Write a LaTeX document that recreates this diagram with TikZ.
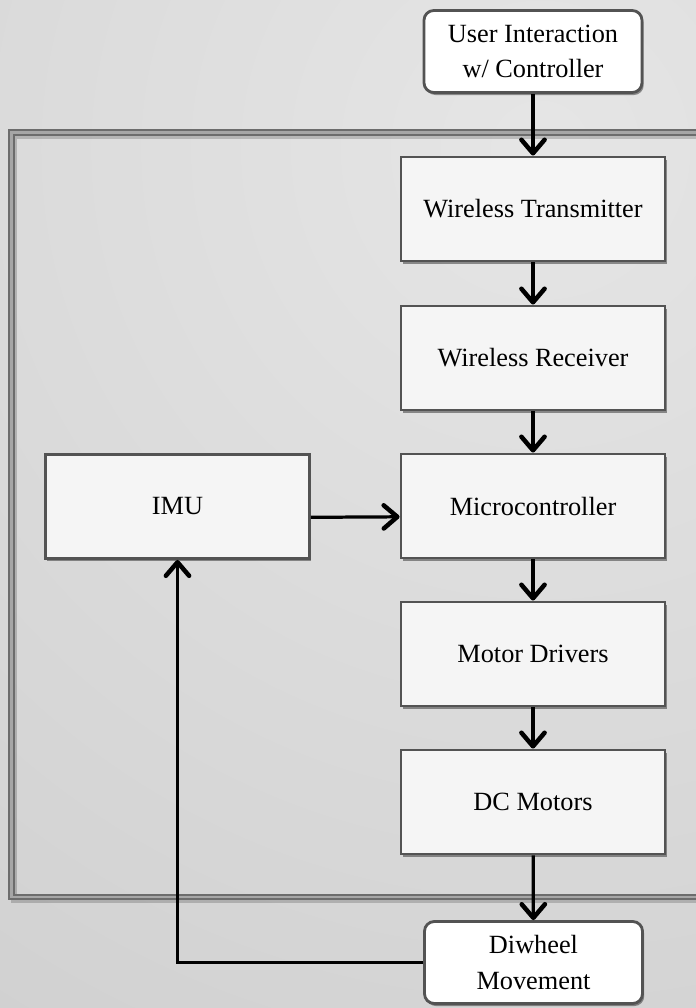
\documentclass[tikz,border=0pt]{standalone}
\usepackage{fontspec}
\setmainfont{Liberation Serif}
\usetikzlibrary{arrows.meta,shadows}

\tikzset{
  blk/.style={draw=gray!65!black,line width=2pt,fill=gray!8,
    minimum width=6.6cm,minimum height=2.6cm,
    drop shadow={shadow xshift=1.2pt,shadow yshift=-1.8pt,fill=black,opacity=.4}},
  endblk/.style={blk,fill=white,rounded corners=7pt,align=center,
    minimum width=5.45cm,minimum height=2.05cm},
  flow/.style={->,line width=2.3pt}
}

\begin{document}
\begin{tikzpicture}[x=0.025cm,y=-0.025cm,
  >={Straight Barb[length=3.4mm,width=5.8mm,line width=3.2pt,round]},
  font=\fontsize{18.7}{25}\selectfont]
\useasboundingbox (0,0) rectangle (696,1008);
\clip (0,0) rectangle (696,1008);
% background
\shade[inner color=gray!20,outer color=gray!42] (-860,-1250) rectangle (1940,1550);
% frame round the robot
\draw[black,opacity=.18,line width=4pt] (14,136) rectangle (760,900);
\draw[gray!85!black,line width=1.4pt,double=gray!70,double distance=1.5pt] (11.5,132.5) rectangle (760,897);
% blocks
\node[endblk] (user) at (533,51.5) {User Interaction\\w/ Controller};
\node[blk] (tx) at (533,209) {Wireless Transmitter};
\node[blk] (rx) at (533,358) {Wireless Receiver};
\node[blk] (mcu) at (533,506) {Microcontroller};
\node[blk] (drv) at (533,654) {Motor Drivers};
\node[blk] (dcm) at (533,802) {DC Motors};
\node[blk] (imu) at (177.5,506.5) {IMU};
\node[endblk] (diw) at (533.5,962.5) {Diwheel\\Movement};
% connectors
\draw[flow] (user) -- (tx);
\draw[flow] (tx) -- (rx);
\draw[flow] (rx) -- (mcu);
\draw[flow] (mcu) -- (drv);
\draw[flow] (drv) -- (dcm);
\draw[flow] (dcm) -- (diw);
\draw[flow] ([yshift=-0.27cm]imu.east) -- ([yshift=-0.27cm]mcu.west);
\draw[flow] (diw.west) -| (imu.south);
\end{tikzpicture}
\end{document}
